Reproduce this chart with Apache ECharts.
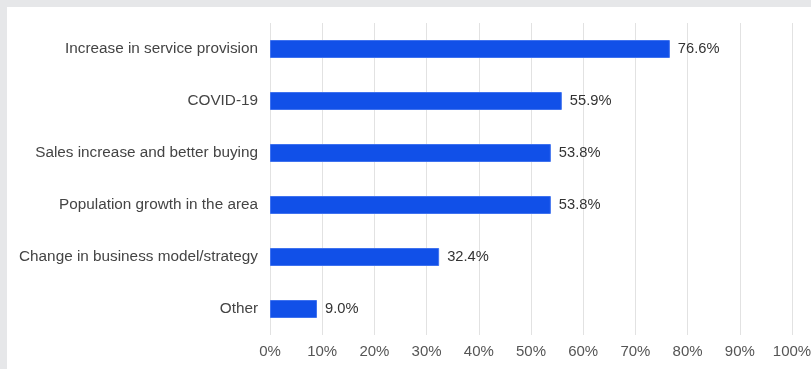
<!DOCTYPE html>
<html><head><meta charset="utf-8">
<script src="https://cdn.jsdelivr.net/npm/echarts@6/dist/echarts.min.js"></script>
<style>
html,body{margin:0;padding:0;background:#e6e7e9;width:811px;height:369px;overflow:hidden;}
#c{position:absolute;left:7px;top:7px;width:804px;height:362px;background:#fff;}
</style></head><body>
<div id="c"></div>
<script>
const categories = ["Increase in service provision","COVID-19","Sales increase and better buying","Population growth in the area","Change in business model/strategy","Other"];
const values = [76.6, 55.9, 53.8, 53.8, 32.4, 9.0];
const chart = echarts.init(document.getElementById('c'));
const ff = 'Liberation Sans, Arial, sans-serif';
chart.setOption({
  animation:false,
  grid:{left:263, right:19, top:16, bottom:34, containLabel:false, outerBoundsMode:'none'},
  xAxis:{type:'value', min:0, max:100, interval:10,
    axisLine:{show:false}, axisTick:{show:false},
    splitLine:{lineStyle:{color:'#e2e2e2', width:1}},
    axisLabel:{formatter:'{value}%', color:'#555', fontSize:15, fontFamily:ff, margin:9, hideOverlap:false}},
  yAxis:{type:'category', inverse:true, data:categories,
    axisLine:{show:false}, axisTick:{show:false},
    axisLabel:{color:'#444', fontSize:15.3, fontFamily:ff, margin:12}},
  series:[{type:'bar', data:values, barWidth:18,
    itemStyle:{color:'#1150e8', borderColor:'#3f72ef', borderWidth:1},
    label:{show:true, position:'right', distance:8, color:'#333', fontSize:14.7, fontFamily:ff,
      formatter:p=>p.value.toFixed(1)+'%'}}]
});
</script></body></html>
